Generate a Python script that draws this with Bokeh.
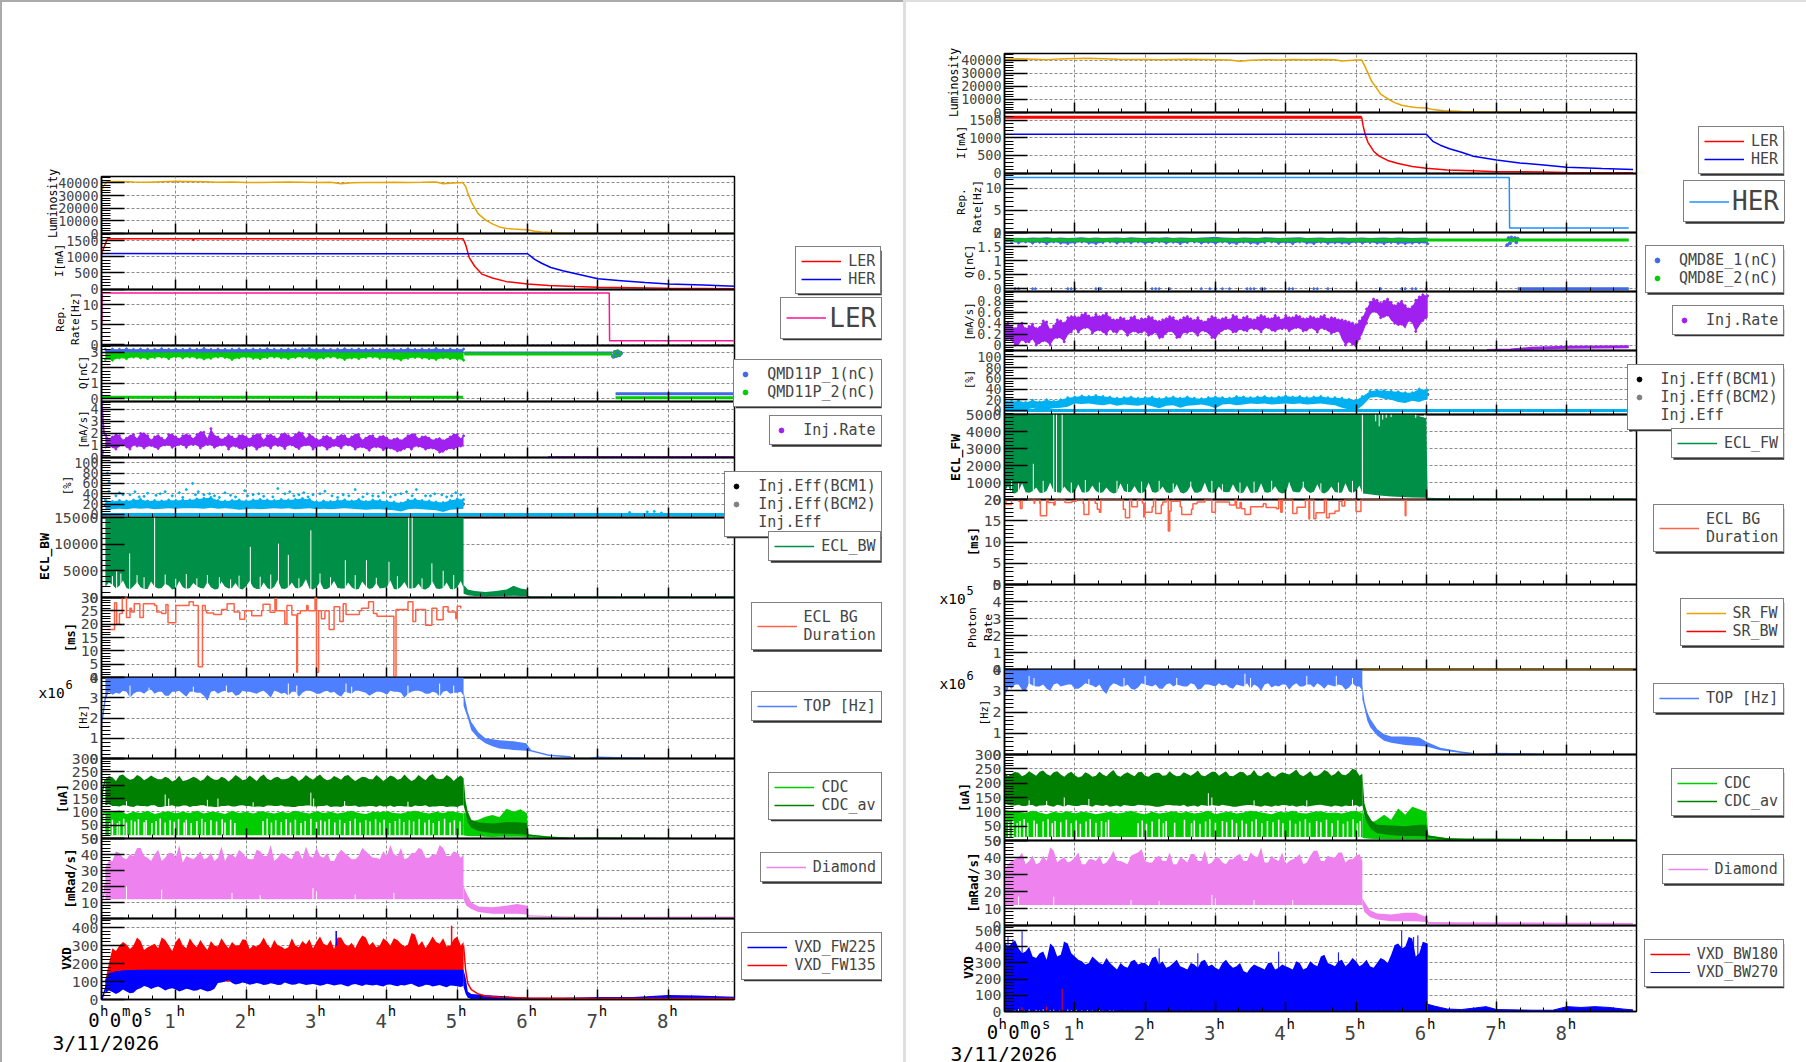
from math import pi
from bokeh.plotting import figure
from bokeh.layouts import column, row
from bokeh.models import (Range1d, FixedTicker, Label, Legend, LegendItem, BoxAnnotation, Spacer)
from bokeh.core.properties import value
from bokeh.embed import file_html
from bokeh.resources import INLINE

# ---------------- shared grids / ticks ----------------
hour_ticks = [1, 2, 3, 4, 5, 6, 7, 8]
T51 = [0.0,0.1,0.2,0.3,0.4,0.5,0.6,0.7,0.8,0.9,1.0,1.1,1.2,
       1.3,1.4,1.5,1.6,1.7,1.8,1.9,2.0,2.1,2.2,2.3,2.4,2.5,
       2.6,2.7,2.8,2.9,3.0,3.1,3.2,3.3,3.4,3.5,3.6,3.7,3.8,
       3.9,4.0,4.1,4.2,4.3,4.4,4.5,4.6,4.7,4.8,4.9,5.0,5.09]
T60 = T51 + [5.2,5.3,5.4,5.5,5.6,5.7,5.8,5.9,6.02]
T50 = [0.05,0.15,0.25,0.35,0.45,0.55,0.65,0.75,0.85,0.95,1.05,1.15,1.25,
       1.35,1.45,1.55,1.65,1.75,1.85,1.95,2.05,2.15,2.25,2.35,2.45,2.55,
       2.65,2.75,2.85,2.95,3.05,3.15,3.25,3.35,3.45,3.55,3.65,3.75,3.85,
       3.95,4.05,4.15,4.25,4.35,4.45,4.55,4.65,4.75,4.85,4.95,5.05]
T59 = T50 + [5.15,5.25,5.35,5.45,5.55,5.65,5.75,5.85,5.95]

# ---------------- LEFT column data ----------------
lum_L = [(-0.055,33000),(-0.03,37000),(0.02,40800),(0.2,41000),(0.4,40700),(0.6,40500),(0.8,40900),(1.0,41200),(1.2,41000),
         (1.4,40800),(1.6,40500),(1.8,40600),(2.0,40300),(2.2,40200),(2.4,40500),(2.6,40600),(2.8,40500),(3.0,40300),(3.2,40400),
         (3.35,39300),(3.5,40000),(3.7,40200),(3.9,40200),(4.1,40500),(4.3,40300),(4.5,40400),(4.7,40600),(4.8,39300),(5.0,40000),
         (5.08,40200),(5.12,37000),(5.15,32000),(5.2,25000),(5.25,20000),(5.3,15500),(5.4,10800),(5.5,7600),(5.6,5200),(5.7,4000),
         (5.8,3500),(5.9,3200),(6.0,2900),(6.1,1700),(6.2,1100),(6.35,800),(6.5,350),(6.7,200),(7.0,100),(7.5,60),(8.0,40),(8.94,30)]
ler_L = [(-0.055,1100),(0.0,1400),(0.03,1560),(1.24,1560),(1.25,1500),(1.26,1560),(5.08,1560),(5.1,1480),(5.13,1300),(5.17,973),
         (5.25,700),(5.35,466),(5.5,345),(5.7,233),(6.0,162),(6.3,110),(6.67,80),(7.0,60),(8.0,30),(8.94,10)]
her_L = [(-0.055,1100),(6.0,1094),(6.1,920),(6.2,800),(6.33,670),(6.5,570),(6.67,486),(7.0,324),(7.33,264),(7.67,203),(8.0,162),(8.5,132),(8.94,91)]
rep_L = [(-0.05,5),(-0.045,12.9),(7.16,12.9),(7.165,1),(8.94,1)]
q2_lo_L = [2.55,2.5,2.65,2.6,2.7,2.65,2.6,2.68,2.7,2.6,2.72,2.65,2.7,
           2.65,2.58,2.62,2.7,2.68,2.55,2.65,2.7,2.62,2.6,2.67,2.7,2.65,
           2.6,2.68,2.7,2.65,2.58,2.64,2.7,2.66,2.55,2.65,2.6,2.68,2.7,
           2.62,2.65,2.58,2.52,2.62,2.68,2.65,2.6,2.55,2.65,2.6,2.58,2.5]
q1_top_L = [3.2,3.22,3.2,3.24,3.2,3.22,3.21,3.2,3.24,3.2,3.22,3.2,3.23,
            3.2,3.26,3.2,3.22,3.2,3.21,3.23,3.2,3.22,3.2,3.24,3.21,3.2,
            3.22,3.2,3.23,3.26,3.2,3.22,3.2,3.21,3.24,3.2,3.22,3.2,3.23,
            3.2,3.22,3.21,3.2,3.24,3.2,3.22,3.2,3.26,3.2,3.22,3.2,3.22]
q1_tail_L = [(5.1,2.97),(7.2,2.97)]
q2_tail_L = [(5.1,2.9),(7.2,2.9)]
q1_end_L = [(7.25,0.33),(8.94,0.33)]
q2_end_L = [(7.25,0.08),(8.94,0.08)]
q2_low_L = [(-0.055,0.1),(5.08,0.1)]
blob_L = [(7.22,2.75),(7.24,3.0),(7.26,2.8),(7.28,3.05),(7.3,2.85),(7.32,2.95)]
rate_hi_L = [1.9,1.7,1.8,1.6,1.9,2.0,1.8,1.7,1.6,1.9,1.7,1.8,1.8,
             1.9,2.1,2.4,1.7,1.6,1.7,1.8,1.7,1.8,1.9,1.8,1.7,1.9,
             1.8,1.9,2.0,1.9,1.5,1.7,1.6,1.7,1.8,1.7,1.9,1.6,1.8,
             1.7,1.6,1.5,1.4,1.8,1.9,1.7,1.6,1.5,1.4,1.7,1.9,1.8]
rate2_hi_L = [1.6,2.0,1.5,1.9,1.6,2.1,1.5,1.95,1.5,2.0,1.6,2.0,1.6,2.2,1.6,1.9,1.55,2.0,1.6,1.95,1.6,2.0,1.5,2.0,1.6,2.1,
              1.7,2.2,1.6,1.8,1.5,1.9,1.5,1.95,1.6,2.0,1.5,1.9,1.6,1.9,1.5,1.7,1.65,2.0,1.6,1.85,1.5,1.7,1.6,2.0,1.6]
rate_lo_L = [0.7,0.8,0.9,0.8,1.0,0.9,0.9,0.8,0.9,1.0,0.9,1.0,1.0,
             1.0,0.9,1.0,0.9,1.0,0.9,0.7,0.8,0.9,0.8,0.9,1.0,0.9,
             1.0,0.8,0.9,1.0,0.8,0.9,0.8,0.9,1.0,0.9,0.8,0.7,0.8,
             0.8,0.7,0.6,0.5,0.8,0.9,0.8,0.7,0.6,0.4,0.7,0.8,0.9]
rate2_lo_L = [1.0,0.7,1.1,0.7,0.95,0.8,1.0,0.75,1.05,0.85,1.1,0.85,1.1,0.8,1.1,0.85,1.05,0.7,0.95,0.75,1.0,0.7,1.0,0.8,1.0,0.75,
              1.05,0.75,1.05,0.7,1.0,0.7,1.0,0.8,1.05,0.7,0.9,0.6,0.9,0.65,0.8,0.55,0.75,0.7,0.95,0.7,0.8,0.45,0.7,0.75,0.95]
rate_start_L = [(-0.05,4.5),(-0.04,3.4),(-0.03,2.6),(-0.02,2.1),(-0.045,0.3),(-0.04,0.5)]
rate_tail_L = [(5.5,-0.08),(6.3,-0.08),(6.3,0.0),(8.94,0.0)]
eff_hi_L = [28,25,27,26,28,29,26,27,26,28,27,28,28,
            30,31,33,27,26,27,28,26,28,29,28,27,29,
            28,29,31,29,24,26,25,27,28,26,29,25,28,
            27,25,24,22,28,29,27,26,24,23,27,30,29]
eff_lo_L = [8,10,11,10,12,11,12,10,11,12,11,12,12,
            12,11,13,11,12,11,9,10,11,10,11,12,11,
            12,10,11,12,10,11,10,11,12,11,10,9,10,
            10,9,8,6,10,11,10,9,8,5,9,10,11]
eff_out_L = [(0.05,45),(0.05,62),(0.03,80),(0.15,36),(0.2,42),(0.35,38),(0.48,34),(0.6,41),(0.72,37),(0.85,44),(0.95,36),(1.05,42),
             (1.15,48),(1.24,60),(1.32,44),(1.4,38),(1.55,36),(1.7,42),(1.85,34),(1.98,46),(2.1,38),(2.25,35),(2.45,50),(2.55,40),
             (2.68,36),(2.82,42),(2.95,38),(3.12,45),(3.22,36),(3.38,38),(3.55,48),(3.66,34),(3.8,36),(3.95,42),(4.12,38),(4.28,44),
             (4.42,48),(4.55,36),(4.68,40),(4.85,34),(4.98,42),(5.05,38),(7.45,4),(7.7,5),(7.8,6),(7.9,3),
             (0.25,38),(0.42,44),(0.55,35),(0.78,40),(1.1,33),(1.28,38),(1.48,40),(1.62,33),(1.78,37),(2.02,36),(2.18,40),(2.38,34),
             (2.62,44),(2.75,38),(2.88,34),(3.05,40),(3.3,33),(3.46,36),(3.72,40),(3.88,35),(4.05,34),(4.2,40),(4.36,36),(4.62,36),(4.78,38),(4.92,36)]
ecl_lo_L = [2000,2400,2200,1800,2100,1900,1600,2000,1800,2200,1700,1900,1800,
            2100,1700,1900,1600,2000,1800,1700,2100,1900,1600,1800,2000,1700,
            1900,1800,2200,1700,1900,1600,2000,1800,1700,1900,1600,2100,1800,
            1700,1900,1600,2000,1700,1800,1600,1900,1700,1800,1600,1900,1800]
ecl2_L = [2800,1700,3200,1500,2900,1600,3000,1700,2600,1500,3100,1600,2700,1800,2900,1500,3000,1700,2700,1500,3100,1600,2800,1500,3300,1600,
          2800,1700,3400,1500,2900,1600,3100,1700,2800,1500,3000,1600,2700,1800,3200,1500,2900,1700,2600,1500,3000,1600,2800,1500,3100]
ecl_gap_L = [(0.345,8250),(0.70,15000),(2.06,9500),(2.46,10100),(2.6,8000),(2.92,12600),(3.41,7000),(3.71,7000),(4.03,6700),(4.31,15000),(4.36,15000),
             (4.64,6400),(4.8,5000),(0.1,4000),(0.16,5000),(0.22,4500),(0.45,4200),(0.55,3800),(0.85,4300),(1.0,3500),(1.15,4400),(1.3,3600),(1.45,4200),
             (1.62,3800),(1.78,3400),(1.9,4100),(2.2,3900),(2.35,4300),(2.75,3600),(3.05,4500),(3.2,3800),(3.55,4200),(3.85,3700),(4.15,4000),(4.5,3600),(4.95,4200)]
ecl_tail_L = [(5.09,700,2400),(5.15,400,1500),(5.25,300,1200),(5.4,250,1050),(5.55,280,1200),(5.7,300,1500),(5.8,320,2200),(5.9,300,1700),(5.99,300,1500),(6.01,60,300),(6.05,20,100),(8.94,0,30)]
dur_L = [(0.02,18),(0.13,28),(0.16,20),(0.20,24),(0.24,30),(0.30,22.5),(0.35,26),(0.37,24.6),(0.41,27.7),(0.49,22.5),(0.54,27.7),(0.70,27),(0.73,24.6),(0.80,24),(0.86,27.4),
         (0.89,20.5),(1.00,27),(1.19,28.4),(1.25,27),(1.32,4),(1.38,27),(1.42,25),(1.44,24.2),(1.54,23.6),(1.65,25.5),(1.73,27.7),(1.83,24.6),(1.91,21.8),(1.98,25),(2.08,23.2),
         (2.22,25),(2.24,27.5),(2.34,24.5),(2.41,29.6),(2.43,25),(2.55,20),(2.58,27),(2.65,23.4),(2.72,2),(2.73,24),(2.77,25),(2.86,27),(2.88,25),(2.98,30),(3.00,2),(3.03,25),
         (3.07,22),(3.12,25),(3.18,18),(3.25,26.5),(3.33,21),(3.38,27.7),(3.42,23.6),(3.61,25),(3.64,26),(3.74,28.4),(3.81,24),(3.86,23),(4.10,0),(4.13,25.5),(4.30,28.4),
         (4.37,21),(4.41,25.5),(4.55,19.6),(4.64,26),(4.71,21.7),(4.80,26.5),(4.87,24.6),(4.98,22),(5.0,26.7),(5.05,25.9)]
top_lo_L = [2.9,3.15,3.2,3.3,3.2,3.3,3.35,3.2,3.3,3.1,3.3,3.2,3.3,
            3.25,3.1,3.3,3.2,3.35,3.3,3.15,3.3,3.25,3.3,3.2,3.35,3.2,
            3.1,3.3,3.25,3.35,3.2,3.3,3.25,3.15,3.3,3.2,3.35,3.25,3.2,
            3.3,3.15,3.3,3.25,3.2,3.35,3.3,3.2,3.25,3.3,3.2,3.25,3.1]
top2_L = [3.3,3.25,3.35,3.0,3.3,3.2,3.4,3.3,3.1,3.3,3.35,3.05,3.3,3.25,2.85,3.35,3.3,3.25,3.1,3.35,3.3,3.2,3.35,3.0,3.3,3.25,
          3.3,3.05,3.35,3.3,3.2,3.35,3.3,3.05,3.25,3.35,3.3,3.1,3.3,3.25,3.35,3.3,3.0,3.3,3.35,3.2,3.3,3.05,3.35,3.25,3.3]
top_gap_L = [(0.35,3.6),(0.62,3.5),(1.25,3.55),(1.72,3.6),(2.6,3.7),(2.72,3.6),(3.42,3.7),(3.5,3.55),(4.3,3.6),(4.75,3.7),(4.95,3.6)]
top_tail_L = [(5.09,2.6,3.3),(5.15,2.0,2.3),(5.2,1.4,1.8),(5.3,1.0,1.3),(5.4,0.75,1.0),(5.5,0.6,0.95),(5.6,0.5,0.9),(5.8,0.42,0.85),(5.98,0.38,0.75),(6.05,0.35,0.42),(6.3,0.12,0.2),(6.6,0.05,0.12),(6.65,0.0,0.04),(6.85,0.0,0.03),(7.0,0.02,0.1),(7.4,0.01,0.06),(7.67,0.0,0.05)]
cdcav_hi_L = [222,230,236,228,224,232,226,228,222,226,220,216,224,
              226,222,228,220,226,224,230,222,226,232,224,228,222,
              226,230,224,228,232,226,222,228,234,226,224,230,222,
              228,226,232,224,226,222,228,234,226,224,230,228,226]
cdcav2_L = [234,216,240,220,238,218,236,222,232,214,235,218,232,216,238,220,232,214,238,218,236,216,240,218,232,222,
            236,216,238,220,240,218,234,220,238,216,232,222,238,216,236,220,240,216,238,218,242,222,238,216,236]
cdcav_lo_L = [125,122,120,124,118,122,120,125,118,122,120,124,118,
              122,125,120,118,122,120,124,122,118,120,124,122,125,
              120,118,122,124,120,122,118,120,124,122,118,120,122,
              124,120,118,122,120,124,122,118,120,122,120,118,125]
cdc_hi_L = [100,98,105,92,100,96,104,92,98,102,95,100,96,
            104,94,100,98,92,104,96,100,94,102,98,94,100,
            96,104,98,94,102,96,100,94,98,104,96,92,100,
            98,102,96,94,100,104,98,94,100,96,102,98,94]
cdc_slit_L = [0.06,0.1,0.17,0.2,0.26,0.3,0.37,0.42,0.47,0.55,0.58,0.66,0.72,0.78,0.85,0.92,0.98,1.04,1.12,1.15,1.22,1.3,1.37,1.42,
              1.5,1.58,1.66,1.7,1.78,1.84,2.24,2.3,2.36,2.42,2.5,2.57,2.63,2.7,2.78,2.84,2.92,3.0,3.06,3.12,3.18,3.26,3.33,3.4,
              3.48,3.55,3.62,3.7,3.76,3.84,3.9,3.96,4.04,4.12,4.18,4.24,4.32,4.38,4.46,4.54,4.6,4.66,4.74,4.82,4.9,4.96,5.04]
cdc_slit_top_L = [62,70,58,66,74,60,68,64,72,61,69,58,66,75,60,68,63,72,60,70,58,66,74,62,68,64,72,60,70,58,66,74,60,68,62,72,
                  60,70,58,66,74,62,68,64,72,60,70,58,66,74,60,68,64,72,60,70,58,66,74,62,68,64,72,60,70,58,66,74,60,68,64]
cdcav_gap_L = [(0.85,165),(0.9,150),(1.45,145),(1.6,150),(2.92,172),(2.96,150),(3.4,140),(4.3,138),(0.3,140),(2.1,136)]
cdc_tail_L = [(5.09,12,100),(5.12,10,94),(5.2,8,65),(5.3,8,70),(5.4,7,82),(5.5,6,88),(5.6,7,80),(5.7,7,112),(5.8,7,100),(5.9,7,110),(5.99,6,95),(6.01,5,14),(6.3,1,8),(6.6,0,3),(7.0,0,3),(8.94,0,1)]
cdcav_tail_L = [(5.09,125,230),(5.12,95,140),(5.15,60,100),(5.2,40,70),(5.3,28,60),(5.5,20,56),(5.7,18,62),(5.9,16,60),(5.99,14,58),(6.01,10,16),(6.3,3,7),(6.6,0,3),(7.0,0,4),(8.94,0,1)]
dia_hi_L = [32,36,41,37,39,44,38,40,36,41,38,35,38,
            39,37,41,38,36,40,43,38,37,42,39,36,41,
            38,42,37,39,44,38,36,40,41,37,39,42,38,
            37,39,40,44,38,41,43,38,40,44,39,41,40]
dia2_L = [36,42,38,40,44,39,36,43,38,41,46,39,37,42,38,36,45,40,38,41,37,43,39,46,38,40,
          37,42,45,38,39,41,36,43,39,37,44,40,38,42,46,39,37,41,44,38,40,46,39,42,38]
dia_gap_L = [(0.3,20),(0.8,18),(1.8,16),(2.95,19),(3.0,17),(4.1,16),(2.2,14.5),(3.55,15)]
dia_tail_L = [(5.09,12,20),(5.13,8,16),(5.2,6,10),(5.3,4,7.5),(5.5,3,7),(5.7,3,8),(5.85,3,9),(5.99,2.5,8),(6.01,1.2,2),(6.5,0.8,1.3),(7.5,0.4,1.1),(8.94,0.6,1.3)]
red_hi_L = [110,285,300,305,300,325,290,310,345,300,320,300,340,
            290,300,325,295,310,320,300,330,300,310,305,330,295,
            290,300,325,335,320,310,330,345,310,315,325,345,320,
            300,325,340,310,305,360,325,315,320,340,300,350,320]
red2_L = [200,270,320,280,345,275,300,285,330,270,345,285,310,330,275,300,340,285,300,335,280,295,345,285,300,280,
          340,290,305,285,350,300,280,345,295,285,355,300,290,340,300,330,295,370,300,285,350,310,295,335,300]
blue_hi_L = [110,150,158,162,164,165,165,165,165,165,165,165,165,
             165,165,165,165,165,165,165,165,165,165,165,165,165,
             165,165,165,165,165,165,165,165,165,165,165,165,165,
             165,165,165,165,165,165,165,165,165,165,165,165,165]
blue_lo_L = [35,42,40,44,38,62,70,66,62,58,56,52,55,
             50,52,48,92,100,92,88,90,86,88,84,86,82,
             88,84,86,84,82,80,84,82,78,82,80,84,78,
             76,82,78,80,84,78,74,80,76,74,78,74,76]
blue2_lo_L = [50,30,55,35,55,75,58,72,50,62,45,60,48,58,44,60,95,110,84,95,82,92,80,90,80,95,
              82,90,80,86,76,88,78,85,72,86,75,80,82,72,84,74,78,88,70,82,72,80,68,76,70]
vxd_spike_L = [(3.28,380,"#0000ff"),(4.92,410,"#ff0000")]
blue_tail_L = [(5.09,70,165),(5.12,30,120),(5.15,10,45),(5.2,3,30),(5.5,0,22),(6.0,0,10),(6.5,0,10),(7.0,0,14),(7.5,0,14),(8.0,0,25),(8.4,0,22),(8.94,0,15)]
red_tail_L = [(5.09,300),(5.12,160),(5.15,90),(5.2,55),(5.3,30),(5.4,20),(5.6,12),(6.0,8),(7.0,6),(8.0,5),(8.94,5)]

# ---------------- RIGHT column data ----------------
lum_R = [(0.0,40500),(0.2,41000),(0.4,40700),(0.6,40300),(0.8,40900),(1.0,41200),(1.2,41300),(1.4,41000),(1.6,40700),(1.8,40500),(2.0,40400),(2.2,40200),(2.4,40500),
         (2.6,40600),(2.8,40500),(3.0,40300),(3.2,40000),(3.35,39100),(3.5,39900),(3.7,40200),(3.9,40100),(4.1,40500),(4.3,40300),(4.5,40400),(4.7,40300),(4.8,39200),
         (5.0,40000),(5.08,40100),(5.12,36000),(5.17,30000),(5.22,24000),(5.3,18000),(5.35,14000),(5.45,10500),(5.55,7500),(5.65,5500),(5.75,4500),(5.85,3800),(6.0,3500),
         (6.1,2200),(6.25,1400),(6.5,700),(6.75,450),(7.0,300),(7.5,100),(8.0,60),(8.94,40)]
ler_R = [(0.0,1580),(5.08,1580),(5.1,1350),(5.13,1100),(5.17,870),(5.25,620),(5.33,480),(5.45,360),(5.6,270),(5.8,190),(6.0,140),(6.3,90),(6.67,70),(7.0,40),(7.67,35),(8.0,15),(8.94,10)]
her_R = [(0.0,1100),(6.0,1100),(6.1,890),(6.2,790),(6.33,690),(6.5,590),(6.67,480),(7.0,370),(7.33,290),(7.67,230),(8.0,170),(8.5,130),(8.94,100)]
rep_R = [(0.0,12.5),(7.18,12.5),(7.185,1),(8.88,1)]
q1_hi_R = [1.82,1.80,1.81,1.80,1.82,1.81,1.83,1.80,1.82,1.80,1.81,1.83,1.80,
           1.82,1.80,1.81,1.82,1.80,1.83,1.81,1.80,1.82,1.81,1.83,1.80,1.82,
           1.81,1.80,1.82,1.83,1.85,1.82,1.81,1.80,1.82,1.81,1.80,1.83,1.82,
           1.80,1.81,1.82,1.83,1.80,1.81,1.82,1.80,1.81,1.82,1.80,1.81,1.82,
           1.80,1.81,1.82,1.80,1.82,1.81,1.80,1.81,1.82]
q1_lo_R = [1.64,1.66,1.63,1.66,1.62,1.65,1.60,1.66,1.62,1.60,1.63,1.66,1.62,
           1.60,1.64,1.66,1.62,1.65,1.63,1.66,1.61,1.64,1.66,1.62,1.65,1.60,
           1.64,1.66,1.62,1.64,1.61,1.66,1.62,1.60,1.65,1.62,1.60,1.64,1.66,
           1.61,1.64,1.60,1.66,1.62,1.60,1.65,1.61,1.63,1.62,1.60,1.65,1.62,
           1.64,1.62,1.60,1.64,1.61,1.60,1.62,1.63,1.60]
q2_line_R = [(0.0,1.73),(8.88,1.73)]
q1_blob_R = [(7.15,1.55),(7.17,1.8),(7.19,1.62),(7.21,1.82),(7.23,1.72),(7.26,1.8),(7.28,1.65),(7.3,1.78)]
q1_end_R = [(7.3,0.0),(8.88,0.0)]
q1_dots_R = [0.15,0.2,0.4,0.44,0.9,0.95,1.0,1.3,1.35,1.37,2.1,2.15,2.2,2.35,2.8,2.92,3.0,3.1,3.2,3.45,3.5,3.55,3.65,3.7,4.05,4.1,4.4,4.45,4.6,5.35,5.65,5.7,5.8,5.85,6.0]
rate_hi_R = [0.38,0.33,0.36,0.30,0.38,0.32,0.42,0.35,0.44,0.50,
             0.52,0.55,0.53,0.56,0.54,0.50,0.46,0.48,0.50,0.45,
             0.47,0.50,0.43,0.48,0.50,0.46,0.52,0.45,0.44,0.47,
             0.50,0.48,0.46,0.52,0.50,0.47,0.50,0.52,0.48,0.50,
             0.54,0.50,0.52,0.48,0.50,0.52,0.47,0.49,0.46,0.42,
             0.36,0.50,0.78,0.82,0.80,0.78,0.76,0.72,0.70,0.88,0.90]
rate2_hi_R = [0.40,0.30,0.40,0.34,0.30,0.44,0.28,0.46,0.40,0.52,0.50,0.58,0.50,0.52,0.58,0.46,0.50,0.44,0.52,0.48,
              0.52,0.44,0.46,0.52,0.44,0.50,0.48,0.50,0.42,0.52,0.46,0.50,0.54,0.46,0.52,0.46,0.54,0.48,0.54,0.46,
              0.50,0.54,0.48,0.52,0.48,0.54,0.50,0.46,0.44,0.40,0.44,0.66,0.84,0.76,0.84,0.72,0.80,0.66,0.82,0.92]
rate_lo_R = [0.05,0.08,0.00,0.03,0.10,0.02,0.05,0.10,0.12,0.18,
             0.30,0.28,0.30,0.25,0.22,0.28,0.20,0.25,0.22,0.20,
             0.25,0.18,0.10,0.20,0.22,0.12,0.20,0.22,0.25,0.20,
             0.10,0.25,0.28,0.22,0.25,0.30,0.28,0.30,0.25,0.28,
             0.30,0.28,0.30,0.25,0.28,0.30,0.25,0.22,0.10,0.05,
             -0.05,0.20,0.55,0.58,0.50,0.45,0.35,0.30,0.40,0.35,0.50]
rate2_lo_R = [0.12,0.00,0.10,0.06,0.00,0.08,0.00,0.14,0.06,0.24,0.24,0.32,0.22,0.28,0.20,0.25,0.30,0.18,0.26,0.24,
              0.18,0.24,0.15,0.26,0.14,0.24,0.26,0.18,0.26,0.14,0.22,0.30,0.24,0.30,0.26,0.30,0.24,0.32,0.26,0.30,
              0.26,0.32,0.26,0.32,0.24,0.30,0.22,0.26,0.00,0.02,0.12,0.40,0.62,0.50,0.55,0.40,0.38,0.45,0.25,0.45]
rate_tail_R = [(6.86,-0.1),(7.2,-0.09),(7.5,-0.06),(8.0,-0.04),(8.88,-0.03)]
eff_hi_R = [18,17,18,15,19,16,20,17,20,24,
            25,27,26,28,26,25,23,24,25,23,
            24,25,22,24,25,23,25,23,22,24,
            25,24,23,26,25,24,25,26,24,25,
            27,25,26,24,25,26,24,24,23,21,
            19,26,36,38,37,36,35,33,33,40,38]
eff_lo_R = [1,3,0,2,4,1,2,4,5,7,
            13,12,13,11,10,12,9,11,10,9,
            11,8,4,9,10,5,9,10,11,9,
            4,11,12,10,11,13,12,13,11,12,
            13,12,13,11,12,13,11,10,5,2,
            0,9,24,25,22,20,16,14,18,16,22]
eclfw_lo_R = [450,400,500,430,480,400,520,460,400,500,450,420,480,
              500,430,460,410,500,450,420,480,440,500,420,460,430,
              480,410,500,450,420,470,440,500,430,400,460,420,490,
              440,410,470,430,500,450,420,480,440,410,470,500,350]
eclfw2_R = [800,350,950,400,700,380,1000,420,760,350,900,400,820,380,700,360,950,420,800,350,1000,400,760,380,900,360,
            820,400,1000,380,760,420,900,350,820,380,950,400,780,360,1000,420,800,380,900,350,760,400,950,380,820]
eclfw_gap_R = [(0.41,2100),(0.70,5000),(0.74,5000),(0.82,5000),(5.09,5000),(0.1,1100),(0.2,1000),(0.55,1100),(0.95,1000),(1.15,1150),(1.35,1000),(1.6,1100),(1.75,900),
               (1.95,1050),(2.2,1100),(2.4,950),(2.65,1050),(2.95,1100),(3.1,900),(3.35,1000),(3.55,1050),(3.8,1100),(4.05,1000),(4.25,1050),(4.5,950),(4.75,1000),(4.95,1100)]
eclfw_tail_R = [(5.1,350,5000),(5.3,250,5000),(5.5,180,5000),(5.8,120,5000),(6.0,100,4800),(6.02,40,90),(6.3,10,40),(8.94,0,20)]
eclfw_notch_R = [(5.28,4600),(5.33,4300),(5.38,4700),(5.43,4800),(5.5,4850),(5.85,4800),(5.98,4800)]
dur_R = [(0.02,20),(0.02,18.8),(0.1,20),(0.2,19.6),(0.225,17.9),(0.25,20),(0.38,20),(0.42,19.1),(0.43,20),(0.5,19.1),(0.51,20),(0.51,16.2),(0.6,20),(0.62,19.3),(0.7,18.7),(0.72,20),
         (0.86,19.3),(0.96,19.6),(1.02,20),(1.12,19),(1.13,16.5),(1.18,16.5),(1.2,20),(1.29,19.1),(1.32,17.7),(1.35,17),(1.37,20),(1.69,17.7),(1.72,15.7),(1.78,20),(1.81,18.3),(1.89,20),
         (1.96,19.2),(1.98,15.9),(1.99,19),(2.0,17),(2.1,18.3),(2.12,20),(2.15,16.7),(2.23,18.7),(2.25,19.4),(2.3,20),(2.33,12.6),(2.35,17.3),(2.37,19.6),(2.5,18.3),(2.52,16.5),(2.66,17.7),
         (2.68,19),(2.74,19.4),(2.85,20),(2.95,17),(3.0,19.4),(3.2,18.7),(3.28,20),(3.3,18),(3.35,19.3),(3.37,17.8),(3.42,16.5),(3.48,16.5),(3.5,18.3),(3.68,19),(3.72,18.1),(3.87,17.8),
         (3.9,20),(3.93,17),(3.95,20),(4.1,16.7),(4.16,18.2),(4.28,20),(4.33,15.4),(4.34,20),(4.4,15.5),(4.43,16.9),(4.55,20),(4.58,15.7),(4.62,16.7),(4.7,17.3),(4.76,19.6),(4.8,18.5),(4.84,20),
         (5.0,17.2),(5.07,20),(5.7,20),(5.7,16.2),(5.71,20),(6.0,20)]
top_lo_R = [2.9,3.1,3.3,3.0,3.25,3.2,3.1,3.3,3.2,3.3,3.1,3.2,3.3,
            3.15,3.0,3.2,3.3,3.2,3.1,3.15,3.3,3.2,3.1,3.3,3.2,3.25,
            3.2,3.3,3.1,3.3,3.2,3.25,3.15,3.3,3.2,3.1,3.2,3.3,3.15,
            3.2,3.3,3.25,3.2,3.3,3.15,3.25,3.3,3.2,3.25,3.15,3.2,3.0]
top2_R = [3.25,3.3,3.05,3.35,3.2,3.3,3.0,3.35,3.25,3.3,3.1,3.35,3.25,3.3,2.85,3.35,3.2,3.3,3.05,3.35,3.25,3.3,3.1,3.35,3.3,3.2,
          3.35,3.05,3.3,3.25,3.35,3.3,3.1,3.25,3.35,3.3,3.0,3.35,3.25,3.3,3.05,3.35,3.2,3.3,3.35,3.1,3.25,3.3,3.05,3.35,3.2]
top_gap_R = [(0.35,3.7),(0.42,3.6),(1.2,3.55),(1.7,3.6),(2.0,3.7),(2.45,3.6),(3.42,3.8),(3.5,3.6),(4.3,3.7),(4.72,3.7),(4.95,3.6)]
top_tail_R = [(5.09,2.6,3.3),(5.12,2.2,2.5),(5.16,1.6,2.0),(5.2,1.3,1.7),(5.3,0.9,1.2),(5.4,0.65,0.95),(5.5,0.55,0.85),(5.7,0.45,0.85),(5.9,0.4,0.8),(6.0,0.38,0.6),(6.2,0.2,0.32),(6.5,0.07,0.14),(6.65,0.02,0.08),(6.7,0.0,0.02),(6.9,0.0,0.03),(7.0,0.02,0.08),(7.67,0.0,0.04)]
cdcav_hi_R = [238,232,236,230,234,240,232,238,230,234,228,224,232,
              226,230,236,228,232,230,238,226,232,236,228,230,226,
              232,234,228,232,240,234,226,232,238,230,228,234,226,
              232,234,238,230,232,226,234,240,232,230,236,246,234]
cdcav2_R = [225,240,224,242,226,244,226,242,222,240,220,238,222,240,224,246,222,238,224,240,222,236,226,242,224,238,
            226,244,224,240,226,242,224,240,226,246,224,240,222,238,230,248,224,242,226,246,226,244,228,250,226]
cdcav_lo_R = [128,122,125,120,124,122,125,118,122,125,120,124,122,
              125,120,118,122,124,120,125,122,120,118,124,122,120,
              118,122,124,120,122,125,120,118,122,124,120,122,118,
              120,124,122,120,118,122,125,120,122,118,120,124,122]
cdc_hi_R = [106,102,100,96,104,98,92,100,96,102,94,100,98,
            92,96,100,94,98,104,96,92,100,94,98,102,96,
            100,94,98,104,92,98,100,94,98,104,100,96,92,
            100,98,104,96,94,100,102,96,98,94,100,104,96]
cdc_slit_R = [0.06,0.12,0.18,0.22,0.28,0.33,0.42,0.46,0.55,0.62,0.68,0.72,0.8,0.88,0.95,1.02,1.08,1.16,1.22,1.3,1.38,1.44,1.48,
              1.9,1.96,2.02,2.1,2.2,2.26,2.3,2.42,2.56,2.66,2.7,2.78,2.86,2.92,3.0,3.1,3.16,3.24,3.3,3.38,3.44,3.52,3.58,3.66,
              3.74,3.82,3.9,3.96,4.06,4.14,4.2,4.28,4.34,4.44,4.5,4.58,4.66,4.74,4.82,4.88,4.96,5.02,5.06]
cdc_slit_top_R = [64,72,60,68,75,62,70,58,66,74,60,68,64,72,60,70,58,66,74,62,68,64,72,60,70,58,66,74,60,68,62,72,60,
                  70,58,66,74,62,68,64,72,60,70,58,66,74,60,68,64,72,60,70,58,66,74,62,68,64,72,60,70,58,66,74,60,68]
cdcav_gap_R = [(0.85,150),(1.2,145),(2.9,165),(2.95,150),(0.35,140),(0.6,138),(3.55,140),(4.3,140),(4.95,142)]
cdc_tail_R = [(5.09,10,110),(5.12,8,85),(5.2,6,60),(5.3,5,72),(5.4,4,90),(5.5,4,72),(5.6,4,112),(5.7,4,90),(5.8,4,118),(5.95,4,105),(6.0,4,100),(6.03,3,18),(6.3,1,8),(6.65,0,4),(7.0,0,4),(8.94,0,1)]
cdcav_tail_R = [(5.09,125,230),(5.12,85,130),(5.16,60,95),(5.22,38,70),(5.3,25,55),(5.5,18,52),(5.7,16,50),(5.9,16,55),(6.0,14,55),(6.03,10,16),(6.3,3,7),(6.65,0,3),(7.0,0,5),(8.94,0,1)]
dia_hi_R = [33,38,40,36,41,37,38,44,39,37,40,36,39,
            38,36,40,38,37,41,43,38,37,41,38,36,40,
            37,42,38,36,40,37,39,41,38,43,40,37,41,
            38,36,39,42,37,44,38,41,40,43,39,41,38]
dia2_R = [36,39,43,38,36,41,46,37,40,38,43,36,39,41,37,44,38,36,42,45,37,40,38,43,36,39,
          42,38,44,37,40,36,39,42,38,41,46,37,39,43,38,40,36,41,44,38,40,43,37,39,42]
dia_gap_R = [(0.2,17),(0.7,17),(2.95,18),(3.0,16),(4.1,15),(1.8,15),(2.2,14.5),(3.55,15)]
dia_tail_R = [(5.09,12,16),(5.12,8,14),(5.2,5,9),(5.3,3.5,7),(5.5,2.5,6.5),(5.7,2.5,7.5),(5.85,2.5,7.5),(6.0,2,5),(6.03,1.2,2),(6.5,0.6,1.4),(7.0,0.4,1),(8.0,0.4,1.1),(8.94,0.5,1.2)]
vxd_hi_R = [430,420,390,370,340,360,320,400,350,420,
            340,310,300,320,290,300,260,280,310,290,
            300,330,290,270,300,280,260,290,310,280,
            270,300,290,280,250,270,280,260,300,270,
            280,260,300,270,290,340,300,280,320,300,
            310,290,280,300,320,350,420,400,450,360,420]
vxd2_R = [400,440,360,400,330,370,420,340,430,360,
          320,290,340,300,330,280,300,270,320,300,
          280,340,310,280,320,270,300,270,320,290,
          260,320,270,300,240,290,270,300,260,290,
          270,310,260,310,280,350,290,310,280,330,
          280,320,270,330,300,410,390,460,340,430]
vxd_spike_R = [(0.05,460),(0.12,445),(0.25,495),(0.85,430),(2.2,390),(2.75,360),(3.9,370),(4.75,365),(5.65,500),(5.82,460),(5.88,470)]
vxd_tail_R = [(6.02,0,45),(6.1,0,35),(6.2,0,25),(6.3,0,15),(6.5,0,12),(6.7,0,22),(6.85,0,30),(7.0,0,12),(7.5,0,8),(7.8,0,8),(8.0,0,30),(8.2,0,25),(8.4,0,30),(8.6,0,25),(8.8,0,15),(8.94,0,10)]
vxd_red_spike_R = [(0.82,140),(0.6,30),(0.25,25),(1.0,22)]
vxd_white_R = [0.15,0.2,0.28,0.35,0.45,0.5,0.55,0.65,0.7,0.78,0.9,0.95,1.02,1.1,1.18,1.25,1.35,1.4,1.5,1.55]
vxd_white_top_R = [8,14,6,12,10,7,13,9,11,6,12,8,10,7,9,6,8,5,7,6]
sr_R = [(0.0,0.0),(8.94,0.0)]

# ---------------- styling helpers ----------------
MONO = "DejaVu Sans Mono"
ORANGE, RED, BLUE = "#e8a400", "#ff0000", "#0000ff"
PINK, SKY = "#ff1493", "#1e90ff"
QB, QG, PURPLE, CYAN = "#4169e1", "#00cc00", "#a020f0", "#00b0f0"
ECLG, TOMATO, TOPB = "#008f47", "#ff6347", "#4d7fff"
CDCL, CDCD, VIOLET = "#00cc00", "#008000", "#ee82ee"
P_T, P_B = 24, 30
WIDTH = 903

# full-page transparent overlay whose data coordinates are page pixels: it carries axis titles and legends
ov = figure(width=1806, height=1062, x_range=Range1d(0, 1806), y_range=Range1d(1062, 0), output_backend="svg",
            toolbar_location=None, x_axis_location=None, y_axis_location=None, min_border=0,
            background_fill_color=None, border_fill_color=None, outline_line_color=None, margin=(-1062, 0, 0, 0))
ov.grid.visible = False

def xs(pairs): return [a[0] for a in pairs]
def ys(pairs): return [a[1] for a in pairs]

def panel(col, top, bottom, yr, ticks, sub, pb=P_B):
    fl, fr, xr = col["fl"], col["fr"], col["xr"]
    h = bottom - top
    p = figure(width=WIDTH, height=P_T + h + pb, x_range=xr, y_range=Range1d(*yr), output_backend="svg",
               toolbar_location=None, min_border_left=fl, min_border_right=WIDTH - fr, min_border_top=P_T,
               min_border_bottom=pb, margin=(-P_T, 0, -pb, 0), background_fill_color=None, border_fill_color=None,
               outline_line_color="black", outline_line_width=1.5)
    step = ticks[1] - ticks[0]
    minors = []
    v = ticks[0] - step
    while v < yr[1] + step:
        for k in range(1, sub):
            m = v + step * k / sub
            if yr[0] <= m <= yr[1]:
                minors.append(m)
        v += step
    ya, xa = p.yaxis[0], p.xaxis[0]
    ya.ticker = FixedTicker(ticks=ticks, minor_ticks=minors)
    ya.major_label_overrides = {t: f"{t:g}" for t in ticks}
    ya.major_label_text_font = MONO
    ya.major_label_text_font_size = "14.8px" if h >= 75 else "13.4px"
    ya.major_label_standoff = 3
    ya.major_tick_in, ya.major_tick_out = 23, 0
    ya.minor_tick_in, ya.minor_tick_out = 9, 0
    ya.major_tick_line_width, ya.minor_tick_line_width = 1.5, 1
    ya.axis_line_width = 1.5
    xm = [h_ + k / 3 for h_ in range(-1, 10) for k in (1, 2)]
    xm = [m for m in xm if xr.start <= m <= xr.end]
    xa.ticker = FixedTicker(ticks=hour_ticks, minor_ticks=xm)
    xa.major_tick_in, xa.major_tick_out = 10, 0
    xa.minor_tick_in, xa.minor_tick_out = 4, 0
    xa.major_tick_line_width, xa.minor_tick_line_width = 1.5, 1
    xa.axis_line_width = 1.5
    xa.major_label_text_font = MONO
    xa.major_label_overrides = {h_: "" for h_ in hour_ticks}
    xa.major_label_standoff = 0
    for g, tk in ((p.xgrid[0], hour_ticks), (p.ygrid[0], ticks)):
        g.ticker = FixedTicker(ticks=tk)
        g.grid_line_color = "#8c8c8c"
        g.grid_line_dash = "3 2"
        g.grid_line_width = 1
    p._ox = col["ox"]
    p._span = (fl, fr, xr.start, xr.end)
    return p

def txt(p, X, Y, s, size, angle=0.0, bold=False, align="center"):
    ov.add_layout(Label(x=X + p._ox, y=Y, text=s, angle=angle, text_font=MONO, text_font_size=f"{size}px",
                        text_font_style="bold" if bold else "normal", text_align=align, text_baseline="middle",
                        text_color="black"))

def ylab(p, X, Y, s, size, bold=False):
    txt(p, X, Y, s, size, angle=pi / 2, bold=bold)

def box(p, x0, y0, x1, y1, color, level="annotation"):
    ov.add_layout(BoxAnnotation(left=x0 + p._ox, right=x1 + p._ox, top=y0, bottom=y1, fill_color=color, fill_alpha=1,
                                line_color=None, level=level))

def sample(r):
    g = r.glyph
    if hasattr(g, "size"):
        return ov.scatter([-50.0], [-50.0], size=g.size, fill_color=g.fill_color, line_color=g.line_color,
                          fill_alpha=g.fill_alpha, line_alpha=g.line_alpha)
    return ov.line([-50.0, -40.0], [-50.0, -50.0], line_color=g.line_color, line_width=g.line_width)

def legend(p, x0, y0, x1, y1, items, size=15, gw=40, st=7, rh=18):
    box(p, x0 + 2, y0 + 2, x1 + 0.5, y1 + 0.5, "#333333")
    lg = Legend(items=[LegendItem(label=value(n), renderers=[sample(r)]) for n, r in items],
                location=(x0 + p._ox, 1062 - y1 + 0.5), padding=5, margin=0, spacing=0, label_height=rh,
                glyph_height=rh, glyph_width=gw, label_standoff=st, label_text_font=MONO,
                label_text_font_size=f"{size}px", border_line_color="black", border_line_width=1.5,
                background_fill_color="white", background_fill_alpha=1, label_text_baseline="middle")
    ov.add_layout(lg)

def interleave(a, b):
    out = []
    for k, u in enumerate(a):
        out.append(u)
        if k < len(b):
            out.append(b[k])
    return out

def band(p, t, lo, hi, color):
    return p.varea(x=t[:len(hi)], y1=lo, y2=hi, fill_color=color)

def tail(p, tr, color):
    return p.varea(x=[a[0] for a in tr], y1=[a[1] for a in tr], y2=[a[2] for a in tr], fill_color=color)

def line(p, pairs, color, w=1.5):
    return p.line(xs(pairs), ys(pairs), line_color=color, line_width=w)

def stepl(p, pairs, color, w=1.5):
    return p.step(xs(pairs), ys(pairs), line_color=color, line_width=w, mode="after")

def slits(p, ts, tops, bottoms, color="white", w=1):
    p.segment(x0=ts, x1=ts, y0=bottoms, y1=tops, line_color=color, line_width=w)

def hidden(p, color="black"):
    return p.scatter([0.0], [-1e9], size=3, fill_color=color, line_color=None, fill_alpha=0, line_alpha=0)

def xlabels(p, date_x, date_y, zero_cx, dig_y, sup_y):
    xa = p.xaxis[0]
    xa.major_label_overrides = {h: f"{h}\u00a0" for h in hour_ticks}
    xa.major_label_text_font_size = "19px"
    xa.major_label_standoff = 10
    fl, fr, a0, a1 = p._span
    for h in hour_ticks:
        txt(p, fl + (h - a0) / (a1 - a0) * (fr - fl) + 5, sup_y, "h", 14)
    dx = [0, 10.2, 21.5, 32.3, 43, 53.8]
    for k, (s, d) in enumerate(zip("0h0m0s", dx)):
        txt(p, zero_cx + d, sup_y if k % 2 else dig_y, s, 14 if k % 2 else 19)
    txt(p, date_x, date_y, "3/11/2026", 19.7, align="left")

def mids(lo, hi):
    return [(u + v) / 2 for u, v in zip(lo, hi)]

TT = interleave(T51, T50)
TU = interleave(T60, T59)
N2 = len(TT)

# ---------------- LEFT column ----------------
L = {"fl": 101, "fr": 734, "ox": 0, "xr": Range1d(-0.055, 8.94)}
lp = []

p = panel(L, 176, 233, (0, 45000), [0, 10000, 20000, 30000, 40000], 5)
line(p, lum_L, ORANGE); ylab(p, 52, 203, "Luminosity", 11.5); lp.append(p)

p = panel(L, 233, 289, (-10, 1720), [0, 500, 1000, 1500], 5)
a = line(p, ler_L, RED); b = line(p, her_L, BLUE)
ylab(p, 59, 260, "I[mA]", 11)
legend(p, 795.3, 248.3, 880.7, 294.3, [("LER", a), ("HER", b)]); lp.append(p)

p = panel(L, 289, 345, (-0.15, 13.75), [0, 5, 10], 5)
a = line(p, rep_L, PINK)
ylab(p, 60, 318, "Rep.", 11); ylab(p, 75, 318, "Rate[Hz]", 11)
legend(p, 780.3, 300.3, 880.7, 339.3, [("LER", a)], size=26, st=3, rh=29); lp.append(p)

p = panel(L, 345, 401, (-0.17, 3.45), [0, 1, 2, 3], 5)
band(p, T51, [2.95] * 52, q1_top_L, QB)
band(p, T51, q2_lo_L, [3.0] * 52, QG)
a = p.scatter(T51, q1_top_L, size=2, fill_color=QB, line_color=QB)
b = p.scatter(T51, q2_lo_L, size=2, fill_color=QG, line_color=QG)
line(p, q2_low_L, QG, 3)
line(p, q1_tail_L, QB, 3); line(p, q2_tail_L, QG, 3)
p.scatter(xs(blob_L), ys(blob_L), size=4, fill_color=QG, line_color=QB)
line(p, q1_end_L, QB, 3); line(p, q2_end_L, QG, 3)
ylab(p, 83, 372, "Q[nC]", 11)
legend(p, 733.3, 361.3, 880.7, 407.3, [("QMD11P_1(nC)", a), ("QMD11P_2(nC)", b)], gw=12, st=16); lp.append(p)

p = panel(L, 401, 457, (0, 4.66), [0, 1, 2, 3, 4], 5)
band(p, TT, interleave(rate_lo_L, rate2_lo_L), interleave(rate_hi_L, rate2_hi_L), PURPLE)
a = p.scatter(T51 + xs(rate_start_L), rate_hi_L + ys(rate_start_L), size=2, fill_color=PURPLE, line_color=PURPLE)
p.scatter(T50, rate2_lo_L, size=2, fill_color=PURPLE, line_color=PURPLE)
line(p, rate_start_L[:4], PURPLE, 2)
line(p, rate_tail_L, PURPLE, 3)
ylab(p, 82, 429, "[mA/s]", 10.5)
legend(p, 769.3, 417.3, 880.7, 445.7, [("Inj.Rate", a)], gw=12, st=16); lp.append(p)

p = panel(L, 457, 517, (-5.8, 110), [0, 20, 40, 60, 80, 100], 4)
a = p.scatter(T51, mids(eff_lo_L, eff_hi_L), size=2, fill_color="black", line_color="black")
b = p.scatter(T51, mids(eff_lo_L, eff_hi_L), size=2, fill_color="#808080", line_color="#808080")
band(p, T51, eff_lo_L, eff_hi_L, CYAN)
c = p.scatter(xs(eff_out_L), ys(eff_out_L), size=2, fill_color=CYAN, line_color=CYAN)
p.scatter(T51, eff_hi_L, size=2, fill_color=CYAN, line_color=CYAN)
line(p, [(-0.055, 0), (8.94, 0)], CYAN, 3)
ylab(p, 66, 485, "[%]", 10.5)
legend(p, 724.3, 473.3, 880.7, 537.3, [("Inj.Eff(BCM1)", a), ("Inj.Eff(BCM2)", b), ("Inj.Eff", hidden(p))], gw=12, st=16); lp.append(p)

p = panel(L, 517, 597, (0, 15000), [0, 5000, 10000, 15000], 5)
band(p, TT, interleave(ecl_lo_L, ecl2_L), [15000] * N2, ECLG)
slits(p, xs(ecl_gap_L), ys(ecl_gap_L), [0] * len(ecl_gap_L))
tail(p, ecl_tail_L, ECLG)
a = line(p, [(6.0, 40), (8.94, 30)], ECLG)
ylab(p, 44, 556, "ECL_BW", 13, True)
legend(p, 768.3, 533.3, 880.7, 561.7, [("ECL_BW", a)]); lp.append(p)

p = panel(L, 597, 677, (0, 30), [0, 5, 10, 15, 20, 25, 30], 5)
a = stepl(p, dur_L, TOMATO)
ylab(p, 70, 637, "[ms]", 12, True)
legend(p, 750.6, 604.3, 881, 650.7, [("ECL BG\nDuration", a)], rh=36); lp.append(p)

p = panel(L, 677, 758, (0, 4), [0, 1, 2, 3, 4], 5)
band(p, TT, interleave(top_lo_L, top2_L), [4] * N2, TOPB)
slits(p, xs(top_gap_L), ys(top_gap_L), [2.9] * len(top_gap_L))
tail(p, top_tail_L, TOPB)
a = line(p, [(-0.05, 1.8), (0.0, 3.0), (0.02, 3.2)], TOPB)
ylab(p, 82, 717, "[Hz]", 10.5)
txt(p, 38, 692, "x10", 14.5, align="left"); txt(p, 65, 684, "6", 12, align="left")
legend(p, 750.6, 693.3, 881, 721.7, [("TOP [Hz]", a)]); lp.append(p)

p = panel(L, 758, 838, (0, 300), [0, 50, 100, 150, 200, 250, 300], 5)
band(p, T51, [12] * 52, cdc_hi_L, CDCL)
slits(p, cdc_slit_L, cdc_slit_top_L, [12] * len(cdc_slit_L), w=1.5)
band(p, TT, interleave(cdcav_lo_L, cdcav_lo_R), interleave(cdcav_hi_L, cdcav2_L), CDCD)
slits(p, xs(cdcav_gap_L), ys(cdcav_gap_L), [110] * len(cdcav_gap_L))
tail(p, cdc_tail_L, CDCL); tail(p, cdcav_tail_L, CDCD)
a = line(p, [(-0.055, 40), (-0.04, 90), (0.0, 100)], CDCL)
b = line(p, [(-0.055, 120), (-0.04, 180), (0.0, 222)], CDCD)
ylab(p, 62, 798, "[uA]", 12, True)
legend(p, 768.4, 774.3, 881, 820.3, [("CDC", a), ("CDC_av", b)]); lp.append(p)

p = panel(L, 838, 918, (0, 50), [0, 10, 20, 30, 40, 50], 5)
band(p, TT, [12] * N2, interleave(dia_hi_L, dia2_L), VIOLET)
slits(p, xs(dia_gap_L), ys(dia_gap_L), [10] * len(dia_gap_L))
tail(p, dia_tail_L, VIOLET)
a = line(p, [(-0.055, 10), (-0.02, 15), (0.0, 22)], VIOLET)
ylab(p, 70, 878, "[mRad/s]", 12.5, True)
legend(p, 759.8, 854.3, 881, 882.7, [("Diamond", a)]); lp.append(p)

p = panel(L, 918, 999, (0, 450), [0, 100, 200, 300, 400], 5, pb=63)
band(p, TT, [100] * N2, interleave(red_hi_L, red2_L), RED)
band(p, TT, interleave(blue_lo_L, blue2_lo_L), interleave(blue_hi_L, blue_hi_L[1:]), BLUE)
tail(p, blue_tail_L, BLUE)
b = line(p, [(-0.05, 0), (0.0, 60), (0.03, 100)], BLUE)
a = line(p, red_tail_L, RED)
for t_, v_, c_ in vxd_spike_L:
    p.segment(x0=[t_], x1=[t_], y0=[300], y1=[v_], line_color=c_, line_width=1.5)
ylab(p, 66, 958, "VXD", 12.5, True)
legend(p, 741.4, 934.3, 881, 980.3, [("VXD_FW225", b), ("VXD_FW135", a)])
xlabels(p, 52, 1043, 93.5, 1019, 1010); lp.append(p)

# ---------------- RIGHT column ----------------
R = {"fl": 101, "fr": 733, "ox": 903, "xr": Range1d(0.0, 8.99)}
OX = 903
rp = []

p = panel(R, 53, 112, (0, 45000), [0, 10000, 20000, 30000, 40000], 5)
line(p, lum_R, ORANGE); ylab(p, 953 - OX, 82, "Luminosity", 11.5); rp.append(p)

p = panel(R, 112, 173, (-10, 1714), [0, 500, 1000, 1500], 5)
a = line(p, ler_R, RED, 1.5); p.line([0.0, 5.08], [1580, 1580], line_color=RED, line_width=3)
b = line(p, her_R, BLUE)
ylab(p, 961 - OX, 142, "I[mA]", 11)
legend(p, 1697.9 - OX, 128.3, 1783.2 - OX, 174.7, [("LER", a), ("HER", b)]); rp.append(p)

p = panel(R, 173, 232, (0, 13.4), [0, 5, 10], 5)
a = line(p, rep_R, SKY)
ylab(p, 961 - OX, 201, "Rep.", 11); ylab(p, 977 - OX, 206, "Rate[Hz]", 11)
legend(p, 1683 - OX, 183.3, 1783.2 - OX, 222.7, [("HER", a)], size=26, st=3, rh=29); rp.append(p)

p = panel(R, 232, 291, (-0.1, 2), [0, 0.5, 1, 1.5, 2], 5)
band(p, T60, q1_lo_R, q1_hi_R, QB)
a = p.scatter(T60, q1_lo_R, size=2, fill_color=QB, line_color=QB)
p.scatter(q1_dots_R, [0.0] * len(q1_dots_R), size=2, fill_color=QB, line_color=QB)
p.scatter(xs(q1_blob_R), ys(q1_blob_R), size=3, fill_color=QB, line_color=QB)
b = line(p, q2_line_R, QG, 3)
line(p, q1_end_R, QB, 3)
ylab(p, 969 - OX, 261, "Q[nC]", 11)
b2 = p.scatter([1.0], [1.73], size=2, fill_color=QG, line_color=QG)
legend(p, 1645 - OX, 247.3, 1783.2 - OX, 293.7, [("QMD8E_1(nC)", a), ("QMD8E_2(nC)", b2)], gw=12, st=16); rp.append(p)

p = panel(R, 291, 350, (-0.1, 0.98), [0, 0.2, 0.4, 0.6, 0.8], 5)
band(p, TU, interleave(rate_lo_R, rate2_lo_R), interleave(rate_hi_R, rate2_hi_R), PURPLE)
a = p.scatter(T60, rate_hi_R, size=2, fill_color=PURPLE, line_color=PURPLE)
p.scatter(T59, rate2_hi_R, size=2, fill_color=PURPLE, line_color=PURPLE)
p.scatter(T59, rate2_lo_R, size=2, fill_color=PURPLE, line_color=PURPLE)
line(p, rate_tail_R, PURPLE, 3)
ylab(p, 968 - OX, 321, "[mA/s]", 10.5)
legend(p, 1672 - OX, 307.3, 1783.2 - OX, 335.3, [("Inj.Rate", a)], gw=12, st=16); rp.append(p)

p = panel(R, 350, 414, (-7.5, 112), [0, 20, 40, 60, 80, 100], 4)
a = p.scatter(T60, mids(eff_lo_R, eff_hi_R), size=2, fill_color="black", line_color="black")
b = p.scatter(T60, mids(eff_lo_R, eff_hi_R), size=2, fill_color="#808080", line_color="#808080")
band(p, T60, eff_lo_R, eff_hi_R, CYAN)
p.scatter(T60, eff_hi_R, size=2, fill_color=CYAN, line_color=CYAN)
line(p, [(0.0, 0), (8.9, 0)], CYAN, 3)
ylab(p, 968 - OX, 379, "[%]", 10.5)
legend(p, 1626.5 - OX, 366.3, 1783.2 - OX, 430.3, [("Inj.Eff(BCM1)", a), ("Inj.Eff(BCM2)", b), ("Inj.Eff", hidden(p))], gw=12, st=16); rp.append(p)

p = panel(R, 414, 499, (0, 5000), [0, 1000, 2000, 3000, 4000, 5000], 5)
band(p, TT, interleave(eclfw_lo_R, eclfw2_R), [5000] * N2, ECLG)
slits(p, xs(eclfw_gap_R), ys(eclfw_gap_R), [0] * len(eclfw_gap_R))
tail(p, eclfw_tail_R, ECLG)
slits(p, xs(eclfw_notch_R), [5000] * len(eclfw_notch_R), ys(eclfw_notch_R))
a = line(p, [(6.02, 60), (6.4, 20), (8.94, 10)], ECLG)
ylab(p, 955 - OX, 457, "ECL_FW", 13, True)
legend(p, 1670.9 - OX, 430.3, 1783.2 - OX, 458.7, [("ECL_FW", a)]); rp.append(p)

p = panel(R, 499, 584, (0, 20), [0, 5, 10, 15, 20], 5)
a = stepl(p, dur_R, TOMATO)
ylab(p, 973 - OX, 541, "[ms]", 12, True)
legend(p, 1653 - OX, 506.3, 1783.2 - OX, 552.7, [("ECL BG\nDuration", a)], rh=36); rp.append(p)

p = panel(R, 584, 669, (0, 5), [0, 1, 2, 3, 4, 5], 5)
a = line(p, sr_R, ORANGE)
b = p.line([8.0, 8.94], [-1, -1], line_color=RED, line_width=1.5)
ylab(p, 971.5 - OX, 627, "Photon", 11.3); ylab(p, 987.7 - OX, 627, "Rate", 11.3)
txt(p, 939 - OX, 598, "x10", 14.5, align="left"); txt(p, 966 - OX, 590, "5", 12, align="left")
legend(p, 1679.5 - OX, 600.3, 1783.2 - OX, 646.7, [("SR_FW", a), ("SR_BW", b)]); rp.append(p)

p = panel(R, 669, 754, (0, 4), [0, 1, 2, 3, 4], 5)
band(p, TT, interleave(top_lo_R, top2_R), [4] * N2, TOPB)
slits(p, xs(top_gap_R), ys(top_gap_R), [2.9] * len(top_gap_R))
tail(p, top_tail_R, TOPB)
a = line(p, [(0.0, 2.8), (0.05, 3.2)], TOPB)
p.line([5.09, 8.94], [4, 4], line_color=ORANGE, line_width=1.5)
ylab(p, 983.6 - OX, 712, "[Hz]", 10.5)
txt(p, 939 - OX, 683, "x10", 14.5, align="left"); txt(p, 966 - OX, 675, "6", 12, align="left")
legend(p, 1653 - OX, 685.3, 1783.2 - OX, 713.7, [("TOP [Hz]", a)]); rp.append(p)

p = panel(R, 754, 840, (0, 300), [0, 50, 100, 150, 200, 250, 300], 5)
band(p, T51, [12] * 52, cdc_hi_R, CDCL)
slits(p, cdc_slit_R, cdc_slit_top_R, [12] * len(cdc_slit_R), w=1.5)
band(p, TT, interleave(cdcav_lo_R, cdcav_lo_L), interleave(cdcav_hi_R, cdcav2_R), CDCD)
slits(p, xs(cdcav_gap_R), ys(cdcav_gap_R), [110] * len(cdcav_gap_R))
tail(p, cdc_tail_R, CDCL); tail(p, cdcav_tail_R, CDCD)
a = line(p, [(6.3, 5), (6.65, 2), (8.94, 1)], CDCL)
b = line(p, [(6.03, 14), (6.3, 5), (8.94, 1)], CDCD)
ylab(p, 964.6 - OX, 797, "[uA]", 12, True)
legend(p, 1670.9 - OX, 770.3, 1783.2 - OX, 816.7, [("CDC", a), ("CDC_av", b)]); rp.append(p)

p = panel(R, 840, 925, (0, 50), [0, 10, 20, 30, 40, 50], 5)
band(p, TT, [12] * N2, interleave(dia_hi_R, dia2_R), VIOLET)
slits(p, xs(dia_gap_R), ys(dia_gap_R), [10] * len(dia_gap_R))
tail(p, dia_tail_R, VIOLET)
a = line(p, [(6.03, 1.5), (8.94, 1.0)], VIOLET)
ylab(p, 973 - OX, 882, "[mRad/s]", 12.5, True)
legend(p, 1661.6 - OX, 856.3, 1783.2 - OX, 884.7, [("Diamond", a)]); rp.append(p)

p = panel(R, 925, 1011, (0, 531), [0, 100, 200, 300, 400, 500], 5, pb=51)
band(p, TU, [0] * len(TU), interleave(vxd_hi_R, vxd2_R), BLUE)
slits(p, xs(vxd_spike_R), ys(vxd_spike_R), [250] * len(vxd_spike_R), BLUE)
slits(p, vxd_white_R, vxd_white_top_R, [0] * len(vxd_white_R))
a = p.line([8.0, 8.94], [1, 1], line_color=RED, line_width=1.5)
slits(p, xs(vxd_red_spike_R), ys(vxd_red_spike_R), [0] * 4, RED)
b = p.line([a_[0] for a_ in vxd_tail_R], [a_[2] for a_ in vxd_tail_R], line_color=BLUE, line_width=1)
tail(p, vxd_tail_R, BLUE)
ylab(p, 968 - OX, 967, "VXD", 12.5, True)
legend(p, 1643.8 - OX, 941.3, 1783.2 - OX, 987.3, [("VXD_BW180", a), ("VXD_BW270", b)])
xlabels(p, 950 - OX, 1054, 992 - OX, 1031, 1023); rp.append(p)

left = column(Spacer(width=WIDTH, height=176), *lp, width=WIDTH, height=1062, spacing=0,
              styles={"box-shadow": "inset 2px 2px 0 #aaaaaa"})
right = column(Spacer(width=WIDTH, height=53), *rp, width=WIDTH, height=1062, spacing=0,
               styles={"box-shadow": "inset 3px 2px 0 #dedede"})
root = column(row(left, right, width=1806, height=1062, spacing=0), ov, width=1806, height=1062, spacing=0,
              margin=(0, 0, 0, 0))
open("out.html", "w").write(file_html(root, INLINE))
